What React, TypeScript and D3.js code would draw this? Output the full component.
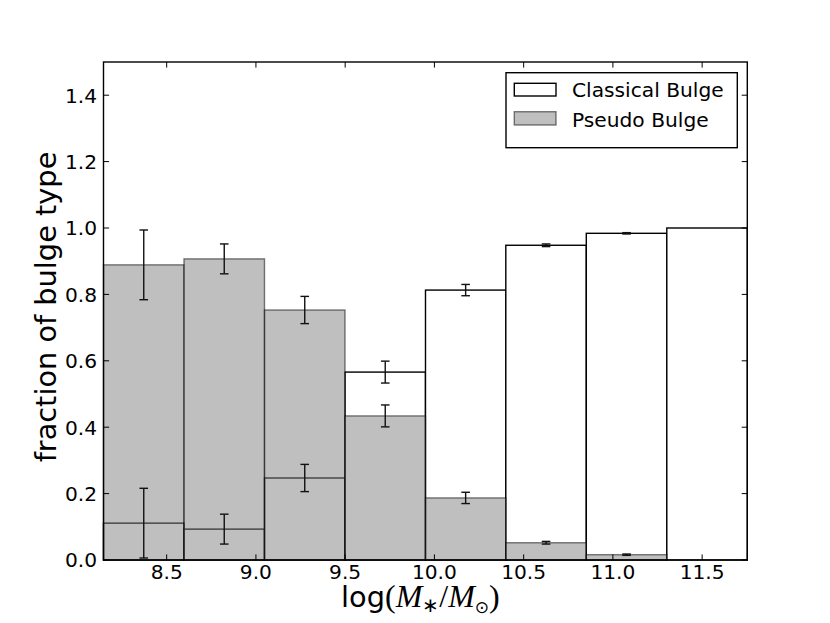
import React from 'react';
import * as d3 from 'd3';

// histogram bins in log(M*/Msun)
const binEdges = [8.146, 8.597, 9.048, 9.499, 9.95, 10.4, 10.851, 11.302, 11.753];
const classicalFrac = [0.111, 0.093, 0.247, 0.566, 0.813, 0.948, 0.984, 1.0];
const pseudoFrac = [0.889, 0.907, 0.753, 0.434, 0.187, 0.052, 0.016, 0.0];
const fracErr = [0.105, 0.045, 0.041, 0.033, 0.017, 0.004, 0.002, 0];
const xTicks = [8.5, 9.0, 9.5, 10.0, 10.5, 11.0, 11.5];
const yTicks = [0.0, 0.2, 0.4, 0.6, 0.8, 1.0, 1.2, 1.4];

const width = 830;
const height = 623;
const margin = { top: 62, right: 82.7, bottom: 63, left: 103.5 };
const tickFont = 20.2;
const labelFont = 28.8;
const font = 'DejaVu Sans';

export default function App() {
  const x = d3.scaleLinear()
    .domain([binEdges[0], binEdges[binEdges.length - 1]])
    .range([margin.left, width - margin.right]);
  const y = d3.scaleLinear()
    .domain([0, 1.5])
    .range([height - margin.bottom, margin.top]);

  const bins = classicalFrac.map((c, i) => ({
    x0: binEdges[i],
    x1: binEdges[i + 1],
    classical: c,
    pseudo: pseudoFrac[i],
    err: fracErr[i],
  }));

  const [x0, x1] = x.range();
  const [yb, yt] = y.range();
  const tickLen = 5.6;
  const cap = 4.3;

  const errBar = (cx: number, v: number, e: number, key: string) => {
    if (e <= 0) return null;
    return (
      <g key={key} stroke="#111" strokeWidth={1.4}>
        <line x1={cx} x2={cx} y1={y(v - e)} y2={y(v + e)} />
        <line x1={cx - cap} x2={cx + cap} y1={y(v - e)} y2={y(v - e)} />
        <line x1={cx - cap} x2={cx + cap} y1={y(v + e)} y2={y(v + e)} />
      </g>
    );
  };

  return (
    <svg width={width} height={height} style={{ position: 'absolute', left: 0, top: 0, background: '#fff' }}>
      {/* classical bulge bars */}
      {bins.map((b, i) => (
        <rect key={'c' + i} x={x(b.x0)} y={y(b.classical)} width={x(b.x1) - x(b.x0)}
          height={yb - y(b.classical)} fill="#fff" stroke="#000" strokeWidth={1.4} />
      ))}
      {/* pseudo bulge bars, half transparent on top */}
      {bins.map((b, i) => (
        <rect key={'p' + i} x={x(b.x0)} y={y(b.pseudo)} width={x(b.x1) - x(b.x0)}
          height={yb - y(b.pseudo)} fill="rgba(128,128,128,0.5)" stroke="rgba(0,0,0,0.5)" strokeWidth={1.4} />
      ))}
      {bins.map((b, i) => errBar((x(b.x0) + x(b.x1)) / 2, b.classical, b.err, 'ec' + i))}
      {bins.map((b, i) => errBar((x(b.x0) + x(b.x1)) / 2, b.pseudo, b.err, 'ep' + i))}

      {/* ticks, inward on all sides */}
      <g stroke="#000" strokeWidth={1}>
        {xTicks.map(t => (
          <g key={'xt' + t}>
            <line x1={x(t)} x2={x(t)} y1={yb} y2={yb - tickLen} />
            <line x1={x(t)} x2={x(t)} y1={yt} y2={yt + tickLen} />
          </g>
        ))}
        {yTicks.map(t => (
          <g key={'yt' + t}>
            <line x1={x0} x2={x0 + tickLen} y1={y(t)} y2={y(t)} />
            <line x1={x1} x2={x1 - tickLen} y1={y(t)} y2={y(t)} />
          </g>
        ))}
      </g>
      <rect x={x0} y={yt} width={x1 - x0} height={yb - yt} fill="none" stroke="#000" strokeWidth={1.4} />

      <g fontFamily={font} fontSize={tickFont} fill="#000">
        {xTicks.map(t => (
          <text key={'xl' + t} x={x(t)} y={yb + 19} textAnchor="middle">{t.toFixed(1)}</text>
        ))}
        {yTicks.map(t => (
          <text key={'yl' + t} x={x0 - 6.5} y={y(t) + 7.3} textAnchor="end">{t.toFixed(1)}</text>
        ))}
      </g>

      {/* axis labels */}
      <text x={(x0 + x1) / 2 - 5} y={607} textAnchor="middle" fontFamily={font} fontSize={labelFont}>
        log
        <tspan fontFamily="Liberation Serif" fontSize={32}>(</tspan>
        <tspan fontFamily="Liberation Serif" fontSize={32} fontStyle="italic">M</tspan>
        <tspan fontFamily="Liberation Serif" fontSize={20} dy={5}>∗</tspan>
        <tspan fontFamily="Liberation Serif" fontSize={32} dy={-5}>/</tspan>
        <tspan fontFamily="Liberation Serif" fontSize={32} fontStyle="italic">M</tspan>
        <tspan fontFamily="DejaVu Sans" fontSize={17} dy={6}>⊙</tspan>
        <tspan fontFamily="Liberation Serif" fontSize={32} dy={-6}>)</tspan>
      </text>
      <text transform={`translate(56,${(yt + yb) / 2 - 4}) rotate(-90)`} textAnchor="middle"
        fontFamily={font} fontSize={labelFont}>fraction of bulge type</text>

      {/* legend */}
      <g>
        <rect x={506} y={72.7} width={231.3} height={75} fill="#fff" stroke="#000" strokeWidth={1.4} />
        <rect x={514.3} y={83.3} width={41.7} height={12.7} fill="#fff" stroke="#000" strokeWidth={1.4} />
        <rect x={514.3} y={111.7} width={41.7} height={13.3} fill="rgba(128,128,128,0.5)"
          stroke="rgba(0,0,0,0.5)" strokeWidth={1.4} />
        <text x={572} y={96.5} fontFamily={font} fontSize={tickFont}>Classical Bulge</text>
        <text x={572} y={126.5} fontFamily={font} fontSize={tickFont}>Pseudo Bulge</text>
      </g>
    </svg>
  );
}
